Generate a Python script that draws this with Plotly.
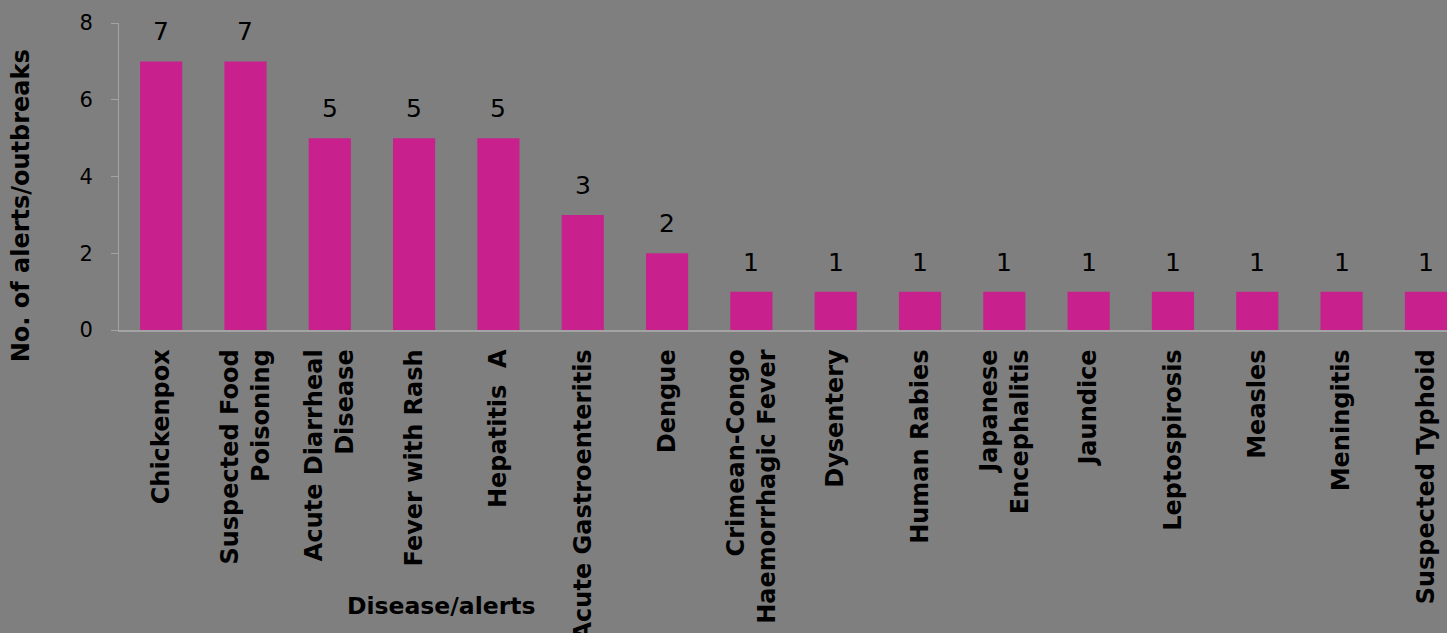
import plotly.graph_objects as go

categories = [
    "Chickenpox", "Suspected Food<br>Poisoning", "Acute Diarrheal<br>Disease",
    "Fever with Rash", "Hepatitis  A", "Acute Gastroenteritis", "Dengue",
    "Crimean-Congo<br>Haemorrhagic Fever", "Dysentery", "Human Rabies",
    "Japanese<br>Encephalitis", "Jaundice", "Leptospirosis", "Measles",
    "Meningitis", "Suspected Typhoid",
]
values = [7, 7, 5, 5, 5, 3, 2, 1, 1, 1, 1, 1, 1, 1, 1, 1]
y_ticks = [0, 2, 4, 6, 8]

BG = "#7F7F7F"
BAR = "#C8208C"
AXIS = "#A3A3A3"
FONT = "DejaVu Sans"

fig = go.Figure()
fig.add_trace(go.Bar(
    x=list(range(len(categories))), y=values,
    marker=dict(color=BAR, line=dict(width=0)),
    hoverinfo="skip",
))

for i, v in enumerate(values):
    fig.add_annotation(
        x=i, y=v, xref="x", yref="y", text=str(v), showarrow=False,
        xanchor="center", yanchor="bottom", yshift=13,
        font=dict(family=FONT, size=25, color="#000000"),
    )

fig.add_annotation(
    x=-0.0735, y=0.404, xref="paper", yref="paper",
    xanchor="center", yanchor="middle",
    text="<b>No. of alerts/outbreaks</b>", textangle=-90, showarrow=False,
    font=dict(family=FONT, size=24, color="#000000"),
)
fig.add_annotation(
    x=0.2425, y=-0.899, xref="paper", yref="paper",
    xanchor="center", yanchor="middle",
    text="<b>Disease/alerts</b>", showarrow=False,
    font=dict(family=FONT, size=23.5, color="#000000"),
)

fig.update_layout(
    width=1447, height=633,
    paper_bgcolor=BG, plot_bgcolor=BG,
    margin=dict(l=119, r=0, t=23, b=303, autoexpand=False),
    bargap=0.5, showlegend=False,
    xaxis=dict(
        tickmode="array", tickvals=list(range(len(categories))),
        ticktext=["<b>%s</b>" % c for c in categories],
        tickangle=-90, range=[-0.5, 15.25], automargin=False,
        showline=True, linecolor=AXIS, linewidth=1.5,
        ticks="", showgrid=False, zeroline=False,
        tickfont=dict(family=FONT, size=24, color="#000000"),
        ticklabelstandoff=8,
    ),
    yaxis=dict(
        range=[0, 8], tickvals=y_ticks, automargin=False,
        showline=True, linecolor=AXIS, linewidth=1,
        ticks="outside", ticklen=7, tickcolor=AXIS,
        showgrid=False, zeroline=False,
        tickfont=dict(family=FONT, size=21, color="#000000"),
        ticklabelstandoff=14,
    ),
)

fig.write_html(
    "out.html",
    config={"displayModeBar": False},
    post_script="document.body.style.margin='0';document.body.style.overflow='hidden';",
)
